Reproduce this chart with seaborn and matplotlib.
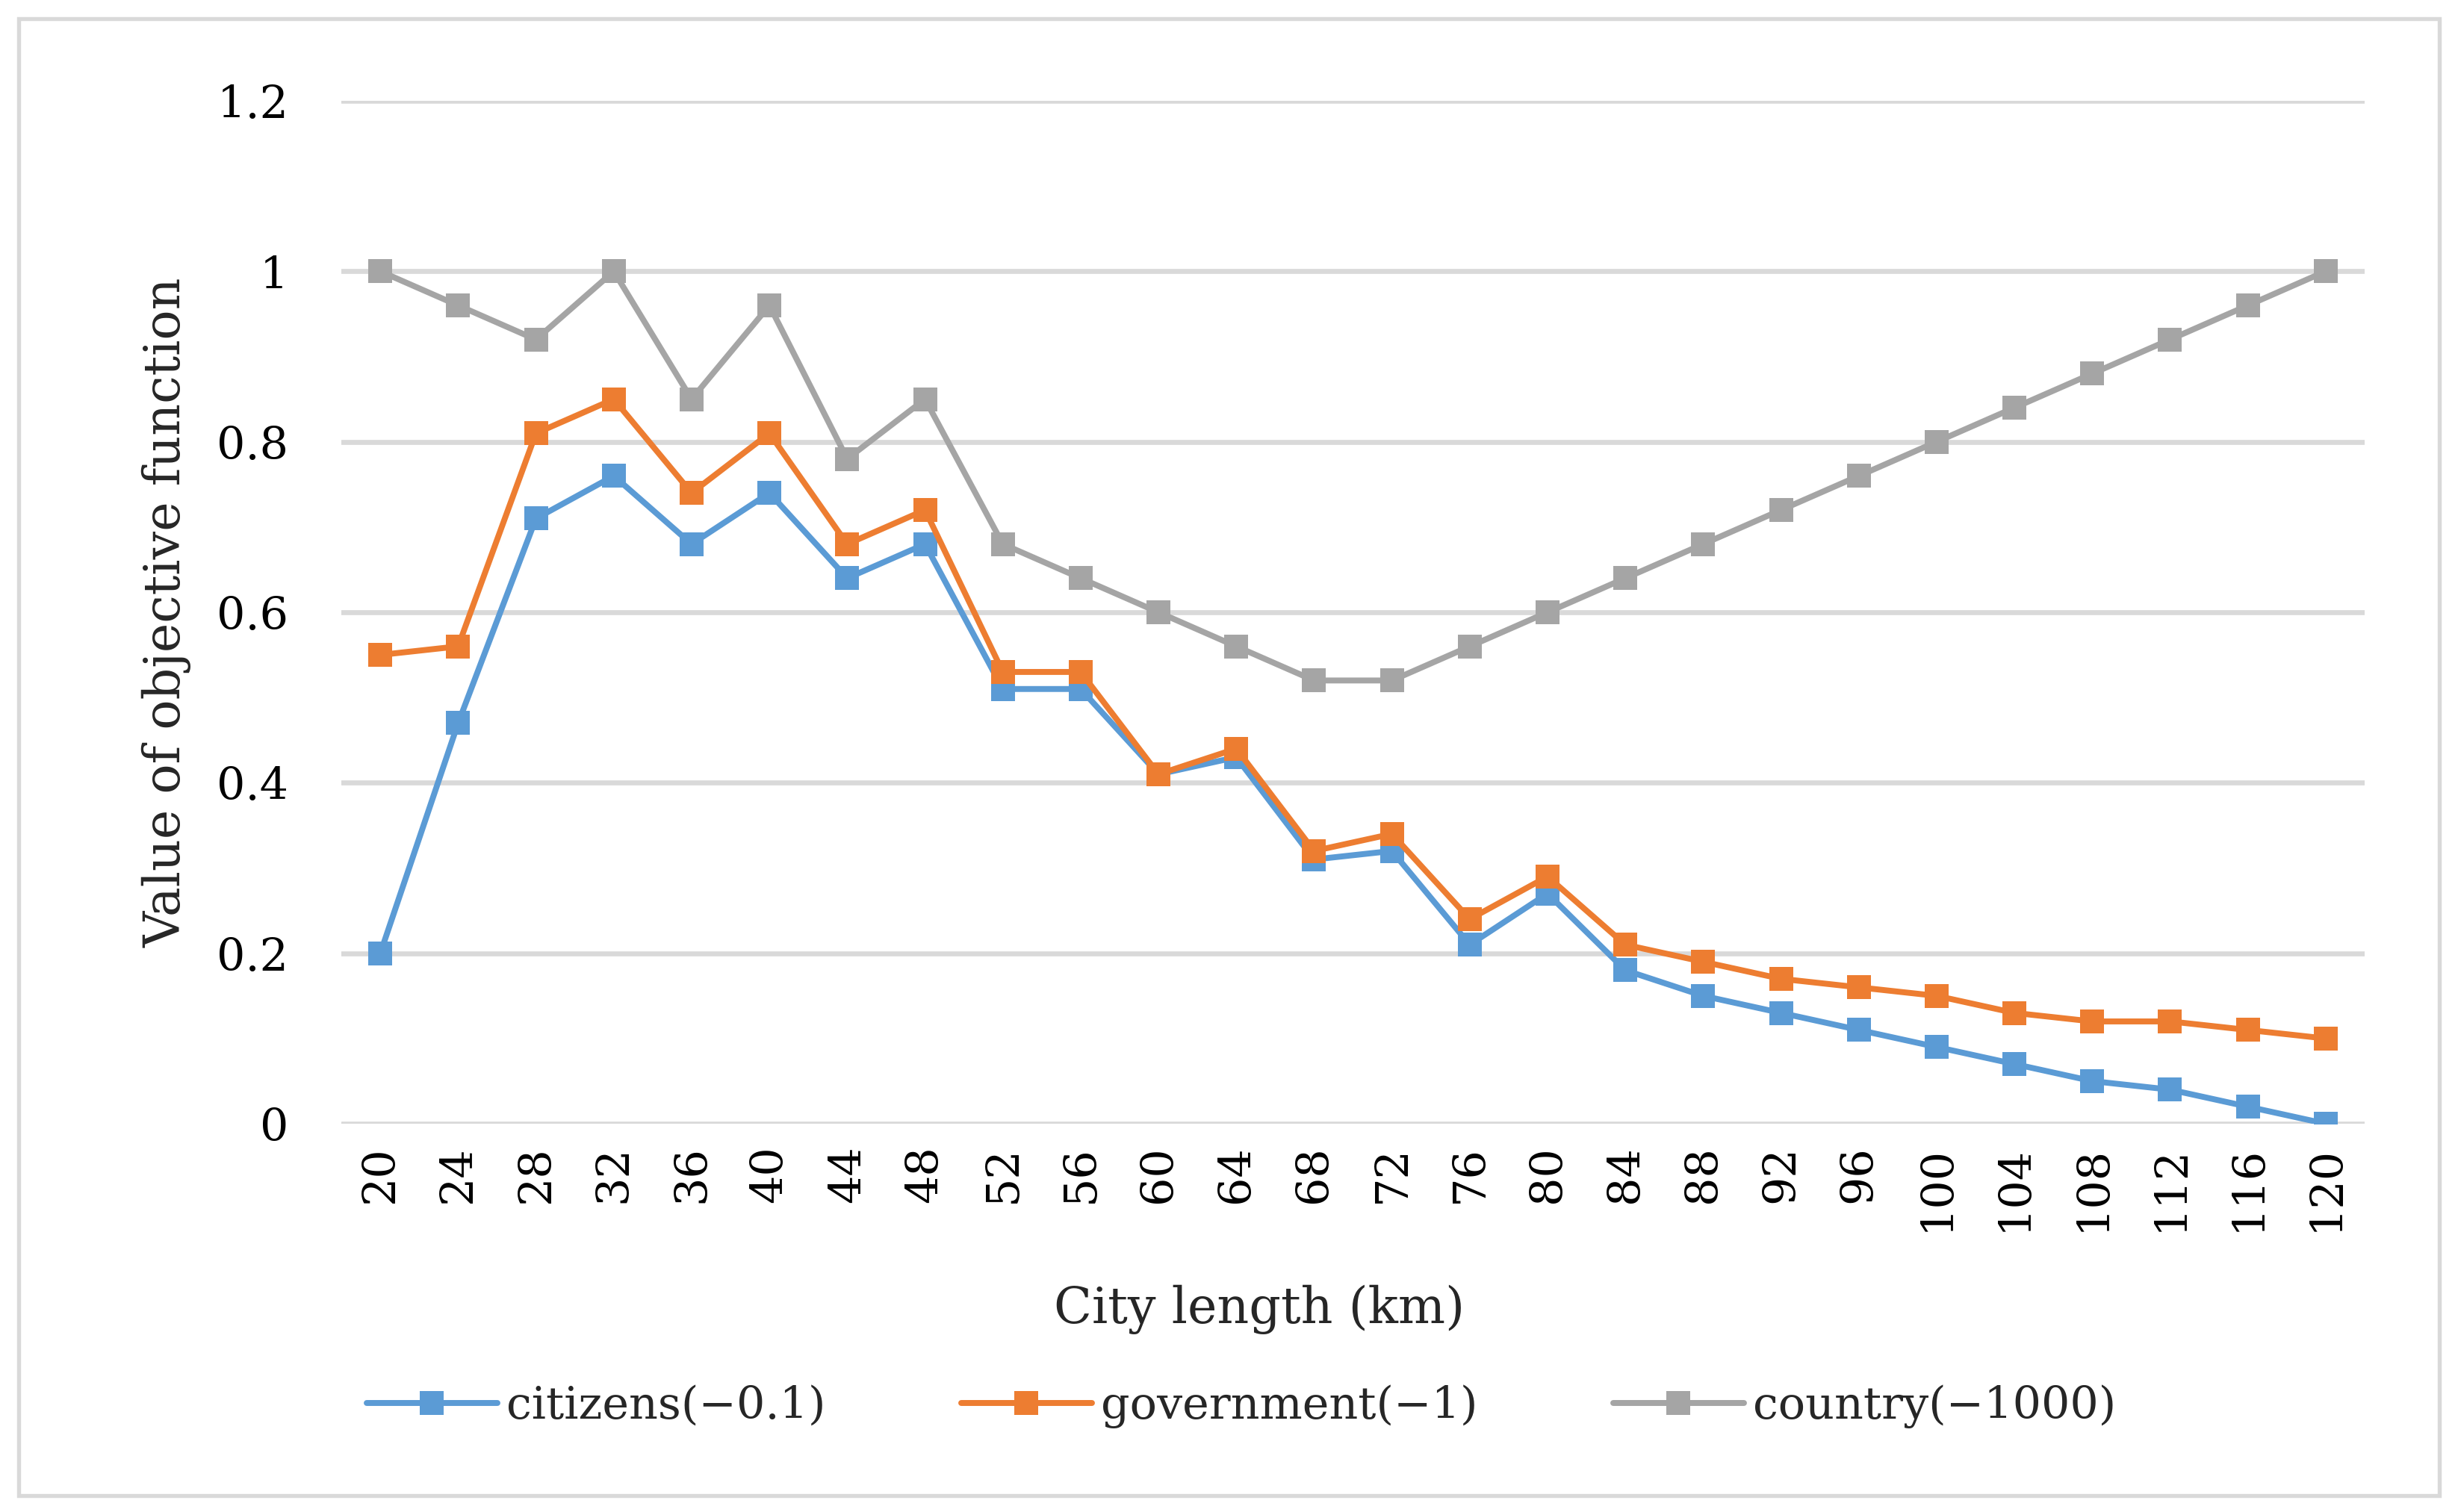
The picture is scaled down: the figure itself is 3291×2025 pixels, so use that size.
import matplotlib.pyplot as plt
import matplotlib.patches as mpatches
import numpy as np
import pandas as pd
import seaborn as sns

# city length categories (km)
lengths = [20, 24, 28, 32, 36, 40, 44, 48, 52, 56, 60, 64, 68, 72, 76, 80,
           84, 88, 92, 96, 100, 104, 108, 112, 116, 120]

citizens = [0.20, 0.47, 0.71, 0.76, 0.68, 0.74, 0.64, 0.68, 0.51, 0.51, 0.41, 0.43,
            0.31, 0.32, 0.21, 0.27, 0.18, 0.15, 0.13, 0.11, 0.09, 0.07, 0.05, 0.04,
            0.02, 0.00]
government = [0.55, 0.56, 0.81, 0.85, 0.74, 0.81, 0.68, 0.72, 0.53, 0.53, 0.41, 0.44,
              0.32, 0.34, 0.24, 0.29, 0.21, 0.19, 0.17, 0.16, 0.15, 0.13, 0.12, 0.12,
              0.11, 0.10]
country = [1.00, 0.96, 0.92, 1.00, 0.85, 0.96, 0.78, 0.85, 0.68, 0.64, 0.60, 0.56,
           0.52, 0.52, 0.56, 0.60, 0.64, 0.68, 0.72, 0.76, 0.80, 0.84, 0.88, 0.92,
           0.96, 1.00]

series_names = ["citizens(\u22120.1)", "government(\u22121)", "country(\u22121000)"]
colors = ["#5B9BD5", "#ED7D31", "#A5A5A5"]

# long-form table for seaborn
pos = np.arange(len(lengths))
df = pd.concat([
    pd.DataFrame({"pos": pos, "value": vals, "series": name})
    for name, vals in zip(series_names, [citizens, government, country])
])

sns.set_style("white")
plt.rcParams['font.family'] = ['DejaVu Serif']

fig = plt.figure(figsize=(3291 / 300, 2025 / 300), dpi=300)
ax = fig.add_axes([0.1389, 0.2568, 0.8231, 0.6765])

sns.lineplot(data=df, x="pos", y="value", hue="series", palette=colors,
             marker="s", markersize=7.8, markeredgewidth=0, linewidth=1.9,
             ax=ax, legend=True)

ax.set_xlim(-0.5, len(lengths) - 0.5)
ax.set_ylim(0, 1.2)
ax.set_yticks([0, 0.2, 0.4, 0.6, 0.8, 1, 1.2])
ax.set_yticklabels(["0", "0.2", "0.4", "0.6", "0.8", "1", "1.2"])
ax.set_xticks(pos)
ax.set_xticklabels([str(v) for v in lengths], rotation=90, va="top")
ax.tick_params(axis="both", length=0, labelsize=14.5, colors="black")
ax.tick_params(axis="y", pad=17)
ax.tick_params(axis="x", pad=7)

ax.yaxis.grid(True, color="#D9D9D9", linewidth=1.6)
ax.xaxis.grid(False)
ax.set_axisbelow(True)
for s in ax.spines.values():
    s.set_visible(False)

ax.set_xlabel("City length (km)", fontsize=16, labelpad=17, x=0.4537)
ax.set_ylabel("Value of objective function", fontsize=16, labelpad=8)

ax.legend_.remove()
handles, labels = ax.get_legend_handles_labels()
fig.legend(handles, labels, loc="center", bbox_to_anchor=(0.505, 0.070), ncol=3,
           frameon=False, fontsize=14.5, handlelength=2.9, handletextpad=0.2,
           columnspacing=3.0)

# light gray frame around the whole chart
fig.patches.append(mpatches.Rectangle((25 / 3291, 22 / 2025), 3241 / 3291, 1978 / 2025,
                                      transform=fig.transFigure, fill=False,
                                      edgecolor="#D9D9D9", linewidth=1.3))

fig.savefig("out.png", dpi=300, facecolor="white")
